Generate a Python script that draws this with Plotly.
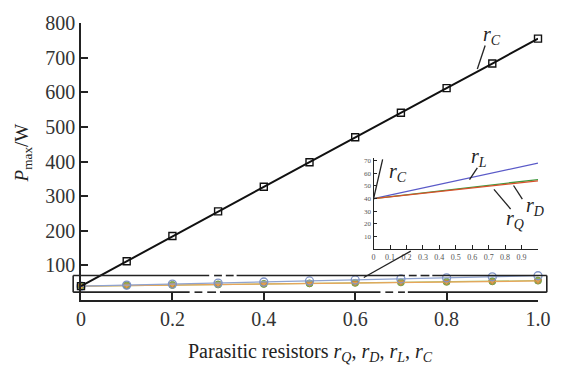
import plotly.graph_objects as go

# ---------------- data ----------------
x_main = [0.0, 0.1, 0.2, 0.3, 0.4, 0.5, 0.6, 0.7, 0.8, 0.9, 1.0]
p_rC = [40, 112, 185, 256, 327, 398, 470, 541, 612, 683, 755]
p_rL = [40, 43, 46, 49, 52, 55, 58, 61, 64, 67, 70]
p_rD = [40, 42, 43.5, 45, 46.5, 48, 49.5, 51, 52.5, 54, 56]
p_rQ = [40, 41.5, 43, 44.5, 46, 47.5, 49, 50.5, 52, 53.5, 55]

x_inset = [0.0, 1.0]
in_rL = [40, 68]
in_rD = [40, 55]
in_rQ = [40, 54]
x_inset_rC = [0.0, 0.055]
in_rC = [40, 71]

x_ticks = [0, 0.2, 0.4, 0.6, 0.8, 1.0]
x_ticklabels = ["0", "0.2", "0.4", "0.6", "0.8", "1.0"]
y_ticks = [100, 200, 300, 400, 500, 600, 700, 800]
inset_xticks = [0, 0.1, 0.2, 0.3, 0.4, 0.5, 0.6, 0.7, 0.8, 0.9, 1.0]
inset_xlabels = ["0", "0.1", "0.2", "0.3", "0.4", "0.5", "0.6", "0.7", "0.8", "0.9", ""]
inset_yticks = [10, 20, 30, 40, 50, 60, 70]

FONT = "Liberation Serif, Times New Roman, serif"
W, H = 563, 370
L, R, T, B = 81, 548, 17, 300


def px(x):
    return (x - L) / (R - L)


def py(y):
    return (B - y) / (B - T)


fig = go.Figure()

# lower-band series in the main axes
fig.add_trace(go.Scatter(x=x_main, y=p_rD, mode="lines+markers",
                         line=dict(color="#a9c46a", width=1.2),
                         marker=dict(symbol="circle", size=7, color="#8fae55",
                                     line=dict(color="#7a9a48", width=1)),
                         showlegend=False, cliponaxis=False))
fig.add_trace(go.Scatter(x=x_main, y=p_rQ, mode="lines+markers",
                         line=dict(color="#e8a55a", width=1.2),
                         marker=dict(symbol="triangle-down", size=6, color="#e0a050",
                                     line=dict(color="#c88a3a", width=1)),
                         showlegend=False, cliponaxis=False))
fig.add_trace(go.Scatter(x=x_main, y=p_rL, mode="lines+markers",
                         line=dict(color="#8fa3d0", width=1.2),
                         marker=dict(symbol="circle-open", size=8,
                                     color="#7f93c6", line=dict(width=1.3)),
                         showlegend=False, cliponaxis=False))
# rC
fig.add_trace(go.Scatter(x=x_main, y=p_rC, mode="lines+markers",
                         line=dict(color="#111111", width=2),
                         marker=dict(symbol="square-open", size=7, color="#111111",
                                     line=dict(width=1.4)),
                         showlegend=False, cliponaxis=False))

# inset
fig.add_trace(go.Scatter(x=x_inset, y=in_rL, mode="lines", xaxis="x2", yaxis="y2",
                         line=dict(color="#5a5ac8", width=1.3), showlegend=False))
fig.add_trace(go.Scatter(x=x_inset, y=in_rD, mode="lines", xaxis="x2", yaxis="y2",
                         line=dict(color="#3f9a3f", width=1.3), showlegend=False))
fig.add_trace(go.Scatter(x=x_inset, y=in_rQ, mode="lines", xaxis="x2", yaxis="y2",
                         line=dict(color="#d8502a", width=1.3), showlegend=False))
fig.add_trace(go.Scatter(x=x_inset_rC, y=in_rC, mode="lines", xaxis="x2", yaxis="y2",
                         line=dict(color="#222222", width=1.3), showlegend=False))

ann_font = dict(family=FONT, size=20, color="#222222")


def ann(text, x, y, font, angle=0):
    return dict(text=text, x=px(x), y=py(y), xref="paper", yref="paper",
                xanchor="center", yanchor="middle", textangle=angle,
                showarrow=False, font=font)


annotations = [
    ann("<i>P</i><sub>max</sub>/W", 22, 150,
        dict(family=FONT, size=19, color="#222222"), angle=-90),
    ann("Parasitic resistors <i>r<sub>Q</sub></i>, <i>r<sub>D</sub></i>, "
        "<i>r<sub>L</sub></i>, <i>r<sub>C</sub></i>", 316, 354,
        dict(family=FONT, size=20, color="#222222")),
    ann("<i>r<sub>C</sub></i>", 501, 30, ann_font),
    ann("<i>r<sub>C</sub></i>", 405, 170, ann_font),
    ann("<i>r<sub>L</sub></i>", 488, 154, ann_font),
    ann("<i>r<sub>D</sub></i>", 545, 204, ann_font),
    ann("<i>r<sub>Q</sub></i>", 524, 218, ann_font),
]

line_style = dict(color="#222222", width=1.3)
box_style = dict(color="#222222", width=1.6)


def seg(x0, y0, x1, y1, style=line_style):
    return dict(type="line", xref="paper", yref="paper", x0=px(x0), y0=py(y0),
                x1=px(x1), y1=py(y1), line=style)


# zoom rectangle drawn as segments (top/bottom edges have dash gaps)
box_top, box_bot, box_left, box_right = 275, 292, 73, 557
top_runs = [(73, 212), (217, 225), (229, 237), (240, 412), (416, 424), (428, 437), (440, 557)]
bot_runs = [(73, 192), (197, 205), (210, 219), (223, 387), (392, 400), (405, 412), (415, 557)]

shapes = [seg(box_left, box_top, box_left, box_bot, box_style),
          seg(box_right, box_top, box_right, box_bot, box_style)]
shapes += [seg(a, box_top, b, box_top, box_style) for a, b in top_runs]
shapes += [seg(a, box_bot, b, box_bot, box_style) for a, b in bot_runs]
shapes += [
    # connector from rectangle to inset
    seg(370, 277, 418, 250),
    # leader lines
    seg(486, 64, 494, 40),
    seg(478, 177, 486, 165),
    seg(523, 183, 532, 197),
    seg(503, 187, 520, 207),
]

fig.update_layout(
    width=W, height=H,
    margin=dict(l=L, r=W - R, t=T, b=H - B, pad=0),
    paper_bgcolor="white", plot_bgcolor="white",
    font=dict(family=FONT, size=20, color="#222222"),
    xaxis=dict(range=[0, 1.0], tickvals=x_ticks, ticktext=x_ticklabels,
               showgrid=False, zeroline=False, showline=True, linecolor="#222222",
               linewidth=1.6, ticks="inside", ticklen=8, tickwidth=1.5, tickcolor="#222222",
               tickfont=dict(family=FONT, size=20, color="#333333")),
    yaxis=dict(range=[0, 800], tickvals=y_ticks, showgrid=False, zeroline=False,
               showline=True, linecolor="#222222", linewidth=1.6, ticks="inside",
               ticklen=7, tickwidth=1.5, tickcolor="#222222",
               tickfont=dict(family=FONT, size=20, color="#333333")),
    xaxis2=dict(domain=[px(380), 1.0], anchor="y2", range=[0, 1.0],
                tickvals=inset_xticks, ticktext=inset_xlabels, showgrid=False,
                zeroline=False, showline=True, linecolor="#222222", linewidth=1.2,
                ticks="inside", ticklen=4, tickwidth=1, tickcolor="#222222",
                tickfont=dict(family=FONT, size=8, color="#555555")),
    yaxis2=dict(domain=[py(248), py(155)], anchor="x2", range=[0, 72],
                tickvals=inset_yticks, showgrid=False, zeroline=False, showline=True,
                linecolor="#222222", linewidth=1.2, ticks="inside", ticklen=3,
                tickwidth=1, tickcolor="#222222",
                tickfont=dict(family=FONT, size=7, color="#555555")),
    annotations=annotations,
    shapes=shapes,
)

fig.write_html("out.html")
